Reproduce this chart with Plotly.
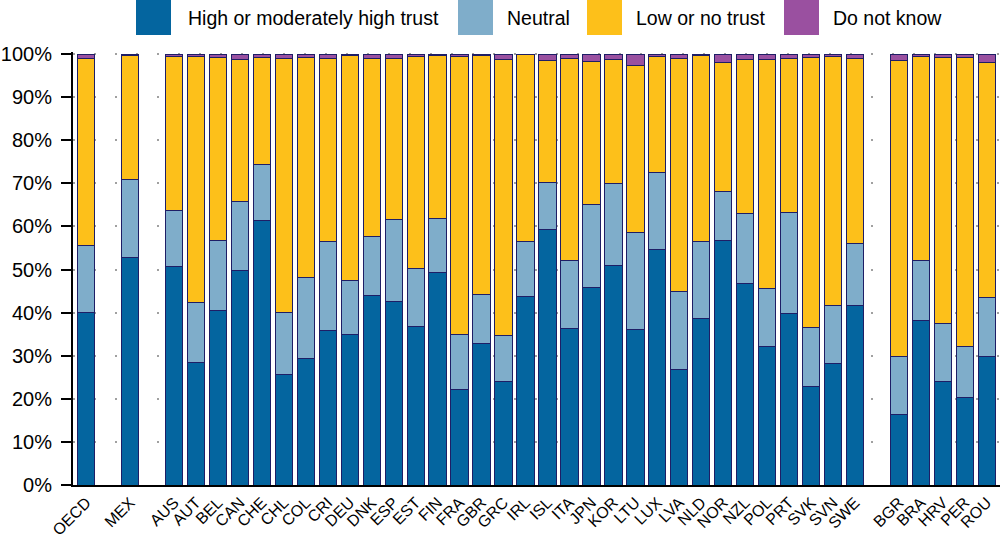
import plotly.graph_objects as go

categories = ["OECD", "MEX", "AUS", "AUT", "BEL", "CAN", "CHE", "CHL", "COL", "CRI",
              "DEU", "DNK", "ESP", "EST", "FIN", "FRA", "GBR", "GRC", "IRL", "ISL",
              "ITA", "JPN", "KOR", "LTU", "LUX", "LVA", "NLD", "NOR", "NZL", "POL",
              "PRT", "SVK", "SVN", "SWE", "BGR", "BRA", "HRV", "PER", "ROU"]
# categories after which an empty slot is left
gap_after = ["OECD", "MEX", "SWE"]

high = [40.0, 52.9, 50.6, 28.5, 40.6, 49.8, 61.5, 25.7, 29.3, 35.9,
        34.9, 44.0, 42.6, 36.8, 49.4, 22.1, 32.8, 24.0, 43.7, 59.3,
        36.3, 45.9, 50.9, 36.0, 54.6, 26.7, 38.7, 56.7, 46.7, 32.1,
        39.9, 22.9, 28.3, 41.7, 16.3, 38.1, 24.0, 20.3, 29.8]
neutral = [15.5, 17.9, 13.2, 13.8, 16.2, 15.9, 12.9, 14.4, 18.8, 20.7,
           12.5, 13.6, 19.1, 13.4, 12.5, 12.9, 11.5, 10.6, 12.9, 10.8,
           15.9, 19.2, 19.0, 22.7, 18.0, 18.1, 17.8, 11.5, 16.4, 13.6,
           23.4, 13.6, 13.4, 14.3, 13.5, 14.1, 13.6, 11.8, 13.8]
low = [43.6, 28.9, 35.6, 57.1, 42.4, 33.1, 24.8, 59.0, 51.2, 42.3,
       52.2, 41.5, 37.3, 49.3, 37.9, 64.4, 55.3, 64.2, 43.4, 28.5,
       46.9, 33.3, 28.9, 38.7, 26.8, 54.3, 43.2, 29.9, 35.6, 53.1,
       35.6, 62.7, 57.7, 42.9, 68.7, 47.3, 61.6, 67.2, 54.4]
dont_know = [0.9, 0.3, 0.6, 0.6, 0.8, 1.2, 0.8, 0.9, 0.7, 1.1,
             0.4, 0.9, 1.0, 0.5, 0.2, 0.6, 0.4, 1.2, None, 1.4,
             0.9, 1.6, 1.2, 2.6, 0.6, 0.9, 0.3, 1.9, 1.3, 1.2,
             1.1, 0.8, 0.6, 1.1, 1.5, 0.5, 0.8, 0.7, 2.0]

series_names = ["High or moderately high trust", "Neutral", "Low or no trust", "Do not know"]
series_colors = ["#04659F", "#7FADCA", "#FDC01A", "#9A50A0"]
y_ticks = [0, 10, 20, 30, 40, 50, 60, 70, 80, 90, 100]
y_ticklabels = [f"{v}%" for v in y_ticks]

# slot positions (empty slot after each group)
xpos = []
slot = 0
for c in categories:
    xpos.append(slot)
    slot += 2 if c in gap_after else 1

fig = go.Figure()
for name, vals, col in zip(series_names, [high, neutral, low, dont_know], series_colors):
    fig.add_trace(go.Bar(
        x=xpos, y=vals, name=name, width=0.79,
        marker=dict(color=col, line=dict(color="#1E1E66", width=1)),
        showlegend=False,
    ))

FONT = "Arial, Liberation Sans, sans-serif"
W, H = 1000, 539
ml, mr, mt, mb = 73, 0, 52, 54
pw, ph = W - ml - mr, H - mt - mb

def px_x(px):
    return (px - ml) / pw

def px_y(py):
    return (H - mb - py) / ph

# manual legend with large square swatches
legend_items = [(136, 186), (458, 505), (587, 634), (784, 831)]
for (sx, tx), name, col in zip(legend_items, series_names, series_colors):
    fig.add_shape(type="rect", xref="paper", yref="paper",
                  x0=px_x(sx), x1=px_x(sx + 35), y0=px_y(35), y1=px_y(0),
                  fillcolor=col, line=dict(width=0))
    fig.add_annotation(xref="paper", yref="paper", x=px_x(tx), y=px_y(18),
                       text=name, showarrow=False, xanchor="left", yanchor="middle",
                       font=dict(family=FONT, size=19.5, color="#000000"))

fig.update_layout(
    width=W, height=H,
    margin=dict(l=ml, r=mr, t=mt, b=mb, pad=0, autoexpand=False),
    barmode="stack",
    bargap=0.2,
    plot_bgcolor="white", paper_bgcolor="white",
    font=dict(family=FONT, color="#000000"),
    xaxis=dict(
        range=[-0.6, slot - 1 + 0.6], automargin=False,
        tickmode="array", tickvals=xpos, ticktext=categories,
        tickangle=-45, tickfont=dict(size=16, color="#000000"),
        showgrid=False, zeroline=False,
        showline=True, linecolor="#000000", linewidth=2, ticks="",
    ),
    yaxis=dict(
        range=[0, 100.5], automargin=False,
        tickmode="array", tickvals=y_ticks, ticktext=y_ticklabels,
        tickfont=dict(size=20, color="#000000"),
        showgrid=True, gridcolor="#A0A0A0", gridwidth=2, griddash="2px,19px",
        zeroline=False,
        showline=True, linecolor="#000000", linewidth=2,
        ticks="outside", ticklen=10, tickwidth=2, tickcolor="#000000",
        ticklabelstandoff=5,
    ),
)

fig.write_html("out.html")
